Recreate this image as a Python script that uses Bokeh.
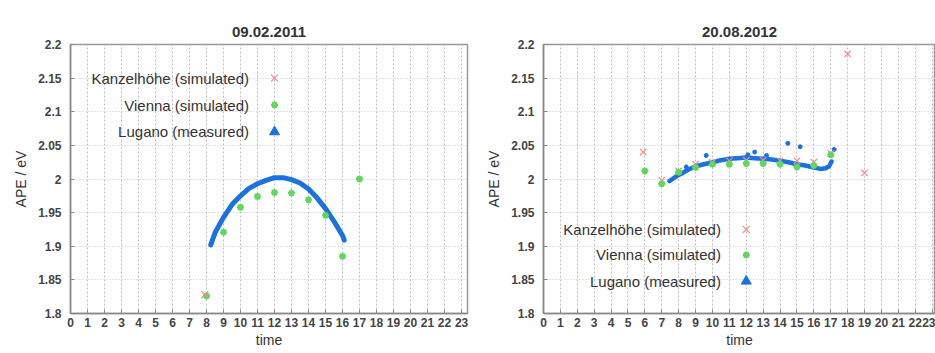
from bokeh.plotting import figure
from bokeh.layouts import row
from bokeh.models import FixedTicker, CustomJSTickFormatter, Label, Range1d
from bokeh.embed import file_html
from bokeh.resources import INLINE

# ---------------- data ----------------
hours = list(range(0, 24))
y_ticks = [1.8, 1.85, 1.9, 1.95, 2.0, 2.05, 2.1, 2.15, 2.2]

# 09.02.2011
kanz_2011_t = [7.9]
kanz_2011_v = [1.828]
vienna_2011_t = [8, 9, 10, 11, 12, 13, 14, 15, 16, 17]
vienna_2011_v = [1.826, 1.921, 1.958, 1.974, 1.980, 1.979, 1.969, 1.946, 1.885, 2.000]
lugano_2011_t = [8.25, 8.5, 9, 9.5, 10, 10.5, 11, 11.5, 12, 12.5, 13, 13.5, 14, 14.5, 15, 15.5, 16, 16.1]
lugano_2011_v = [1.902, 1.920, 1.943, 1.962, 1.975, 1.986, 1.993, 1.998, 2.002, 2.002,
                 1.999, 1.994, 1.985, 1.972, 1.956, 1.937, 1.916, 1.909]

# 20.08.2012
kanz_2012_t = [5.9, 7, 8, 9, 10, 11, 12, 13, 14, 15, 16, 17, 18, 19]
kanz_2012_v = [2.040, 1.998, 2.012, 2.022, 2.025, 2.027, 2.028, 2.028, 2.027, 2.027, 2.025, 2.038, 2.186, 2.009]
vienna_2012_t = [6, 7, 8, 9, 10, 11, 12, 13, 14, 15, 16, 17]
vienna_2012_v = [2.012, 1.993, 2.010, 2.017, 2.022, 2.022, 2.023, 2.023, 2.022, 2.018, 2.020, 2.036]
lugano_2012_t = [7.45, 7.75, 8.0, 8.25, 8.5, 8.75, 9.0, 9.5, 10.0, 10.5, 11.0, 11.5, 12.0, 12.5,
                 13.0, 13.5, 14.0, 14.5, 15.0, 15.5, 16.0, 16.4, 16.7, 16.9, 17.05]
lugano_2012_v = [1.997, 2.002, 2.006, 2.009, 2.013, 2.016, 2.019, 2.022, 2.025, 2.028, 2.030, 2.031,
                 2.032, 2.031, 2.030, 2.029, 2.027, 2.025, 2.022, 2.020, 2.017, 2.015, 2.016, 2.019, 2.026]
lugano_2012_out_t = [8.45, 9.63, 12.1, 12.5, 13.2, 14.46, 15.19, 17.2]
lugano_2012_out_v = [2.018, 2.035, 2.036, 2.040, 2.035, 2.053, 2.048, 2.044]

legend_labels = ["Kanzelhöhe (simulated)", "Vienna (simulated)", "Lugano (measured)"]

RED = "#f08c8c"
GREEN = "#5fd85f"
BLUE = "#1a72e0"
FONT = "Liberation Sans"


def make_fig(title, width, x_end, min_left, min_right):
    p = figure(width=width, height=353, x_range=Range1d(0, x_end), y_range=Range1d(1.8, 2.2),
               output_backend="svg", toolbar_location=None, title=title,
               min_border_left=min_left, min_border_right=min_right,
               min_border_top=44, min_border_bottom=40)
    p.title.align = "center"
    p.title.text_font = FONT
    p.title.text_font_size = "15px"
    p.title.text_font_style = "bold"
    p.title.text_color = "#333333"
    p.title.standoff = 16
    p.xaxis.ticker = FixedTicker(ticks=hours)
    p.yaxis.ticker = FixedTicker(ticks=y_ticks)
    p.yaxis.formatter = CustomJSTickFormatter(code="return String(Math.round(tick*100)/100);")
    p.xaxis.axis_label = "time"
    p.yaxis.axis_label = "APE / eV"
    for ax in (p.xaxis[0], p.yaxis[0]):
        ax.major_label_text_font = FONT
        ax.major_label_text_font_size = "12px"
        ax.major_label_text_font_style = "bold"
        ax.major_label_text_color = "#444444"
        ax.axis_label_text_font = FONT
        ax.axis_label_text_font_size = "14px"
        ax.axis_label_text_font_style = "normal"
        ax.axis_label_text_color = "#333333"
        ax.axis_line_color = "#888888"
        ax.axis_line_width = 1.5
        ax.major_tick_in = 4
        ax.major_tick_out = 0
        ax.major_tick_line_color = "#888888"
        ax.minor_tick_line_color = None
    p.xaxis.axis_label_standoff = 2
    p.xaxis.major_label_standoff = 4
    p.yaxis.axis_label_standoff = 6
    p.yaxis.major_label_standoff = 9
    p.outline_line_color = "#999999"
    p.outline_line_width = 1.5
    p.xgrid.grid_line_color = "#bdbdbd"
    p.xgrid.grid_line_dash = "2 2"
    p.ygrid.grid_line_color = "#c4c4c4"
    p.ygrid.grid_line_dash = "1 2"
    p.background_fill_color = "white"
    p.border_fill_color = "white"
    return p


def add_legend(p, marker_t, label_t, ys):
    for lab, yv in zip(legend_labels, ys):
        p.add_layout(Label(x=label_t, y=yv, text=lab, text_align="right", text_baseline="middle",
                           text_font=FONT, text_font_size="15px", text_color="#333333"))
    p.scatter([marker_t], [ys[0]], marker="x", size=10, line_color=RED, line_width=1.2)
    p.scatter([marker_t], [ys[1]], marker="asterisk", size=7, line_color=GREEN, line_width=2)
    p.scatter([marker_t], [ys[2]], marker="triangle", size=10, fill_color=BLUE, line_color=BLUE)


# -------- left: 09.02.2011 --------
p1 = make_fig("09.02.2011", 470, 23.35, 70, 3)
p1.line(lugano_2011_t, lugano_2011_v, line_color=BLUE, line_width=5, line_cap="round", line_join="round")
p1.scatter(vienna_2011_t, vienna_2011_v, marker="asterisk", size=7, line_color=GREEN, line_width=2)
p1.scatter(kanz_2011_t, kanz_2011_v, marker="x", size=10, line_color=RED, line_width=1.2)
add_legend(p1, 12, 10.5, [2.15, 2.11, 2.07])

# -------- right: 20.08.2012 --------
p2 = make_fig("20.08.2012", 465, 23.2, 73, 0)
p2.line(lugano_2012_t, lugano_2012_v, line_color=BLUE, line_width=4.5, line_cap="round", line_join="round")
p2.scatter(lugano_2012_out_t, lugano_2012_out_v, marker="circle", size=4, fill_color=BLUE, line_color=BLUE)
p2.scatter(kanz_2012_t, kanz_2012_v, marker="x", size=9, line_color=RED, line_width=1.2)
p2.scatter(vienna_2012_t, vienna_2012_v, marker="asterisk", size=7, line_color=GREEN, line_width=2)
add_legend(p2, 12, 10.5, [1.925, 1.887, 1.848])

layout = row(p1, p2, spacing=0)
open("out.html", "w").write(file_html(layout, INLINE))
